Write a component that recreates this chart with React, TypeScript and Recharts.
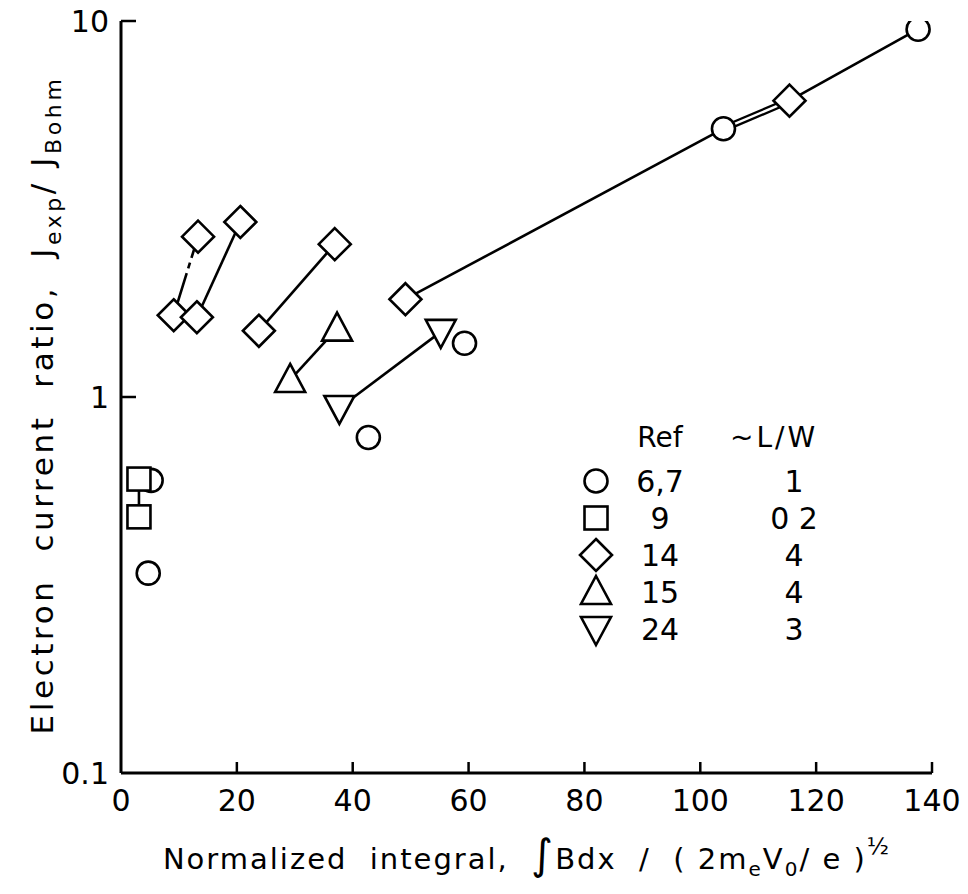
import React from 'react';
import { ScatterChart, Scatter, XAxis, YAxis } from 'recharts';

const xTicks = [0, 20, 40, 60, 80, 100, 120, 140];
const yTicks = [0.1, 1, 10];

// Ref 6,7 - circles
const ref67 = [
  { x: 4.7, y: 0.34 },
  { x: 5.2, y: 0.6 },
  { x: 42.7, y: 0.78 },
  { x: 59.3, y: 1.39 },
  { x: 104.0, y: 5.17 },
  { x: 137.6, y: 9.51 },
];
// Ref 9 - squares
const ref9 = [
  { x: 3.1, y: 0.605 },
  { x: 3.1, y: 0.48 },
];
// Ref 14 - diamonds
const ref14 = [
  { x: 9.1, y: 1.65 },
  { x: 13.3, y: 2.67 },
  { x: 13.1, y: 1.63 },
  { x: 20.6, y: 2.92 },
  { x: 23.8, y: 1.5 },
  { x: 36.9, y: 2.55 },
  { x: 49.1, y: 1.82 },
  { x: 115.4, y: 6.14 },
];
// Ref 15 - triangles up
const ref15 = [
  { x: 29.2, y: 1.11 },
  { x: 37.3, y: 1.52 },
];
// Ref 24 - triangles down
const ref24 = [
  { x: 37.7, y: 0.935 },
  { x: 55.2, y: 1.49 },
];

const legendRefs = ['6,7', '9', '14', '15', '24'];
const legendLW = ['1', '0 2', '4', '4', '3'];

// connecting lines between points
const dashedLink = [ref14[0], ref14[1]];
const solidLinks = [
  [ref9[0], ref9[1]],
  [ref14[2], ref14[3]],
  [ref14[4], ref14[5]],
  [ref15[0], ref15[1]],
  [ref24[0], ref24[1]],
  [ref14[6], ref67[4]],
  [ref14[7], ref67[5]],
];
const doubleLink = [ref67[4], ref14[7]];

const FONT = '"DejaVu Sans", sans-serif';
const SW = 2.6;

const CircleMark = ({ cx, cy }: any) => (
  <circle cx={cx} cy={cy} r={11.5} fill="#fff" stroke="#000" strokeWidth={SW} />
);
const SquareMark = ({ cx, cy }: any) => (
  <rect x={cx - 11.5} y={cy - 11.5} width={23} height={23} fill="#fff" stroke="#000" strokeWidth={SW} />
);
const DiamondMark = ({ cx, cy }: any) => (
  <polygon
    points={`${cx},${cy - 16} ${cx + 16},${cy} ${cx},${cy + 16} ${cx - 16},${cy}`}
    fill="#fff"
    stroke="#000"
    strokeWidth={SW}
  />
);
const TriUpMark = ({ cx, cy }: any) => (
  <polygon
    points={`${cx},${cy - 16} ${cx + 15},${cy + 12} ${cx - 15},${cy + 12}`}
    fill="#fff"
    stroke="#000"
    strokeWidth={SW}
  />
);
const TriDownMark = ({ cx, cy }: any) => (
  <polygon
    points={`${cx},${cy + 16} ${cx + 15},${cy - 12} ${cx - 15},${cy - 12}`}
    fill="#fff"
    stroke="#000"
    strokeWidth={SW}
  />
);
const NoMark = () => <g />;

const legendShapes = [CircleMark, SquareMark, DiamondMark, TriUpMark, TriDownMark];

const XTick = ({ x, y, payload }: any) => (
  <g>
    {payload.value !== 0 && <line x1={x} y1={y} x2={x} y2={y - 11} stroke="#000" strokeWidth={2.5} />}
    <text x={x} y={y + 38} textAnchor="middle" fontSize={30} fontFamily={FONT} fill="#000">
      {payload.value}
    </text>
  </g>
);

const YTick = ({ x, y, payload }: any) => (
  <g>
    {payload.value !== 0.1 && <line x1={x} y1={y} x2={x + 15} y2={y} stroke="#000" strokeWidth={2.5} />}
    <text x={x - 12} y={y + 11} textAnchor="end" fontSize={30} fontFamily={FONT} fill="#000">
      {payload.value}
    </text>
  </g>
);

const XTitle = () => (
  <text
    x={527}
    y={869}
    textAnchor="middle"
    fontSize={29}
    letterSpacing={2}
    fontFamily={FONT}
    fill="#000"
    style={{ whiteSpace: 'pre' }}
  >
    Normalized  integral,  <tspan fontSize={42}>∫</tspan>Bdx  /  ( 2m
    <tspan dy={7} fontSize={20}>e</tspan>
    <tspan dy={-7}>V</tspan>
    <tspan dy={7} fontSize={20}>0</tspan>
    <tspan dy={-7}>/ e )</tspan>
    <tspan dy={-15} fontSize={23}>½</tspan>
  </text>
);

const YTitle = () => (
  <text
    x={0}
    y={0}
    transform="translate(53 405) rotate(-90)"
    textAnchor="middle"
    fontSize={31}
    letterSpacing={3.6}
    fontFamily={FONT}
    fill="#000"
    style={{ whiteSpace: 'pre' }}
  >
    Electron  current  ratio,  J<tspan dy={8} fontSize={22}>exp</tspan>
    <tspan dy={-8}>/ J</tspan>
    <tspan dy={8} fontSize={22}>Bohm</tspan>
  </text>
);

const LegendBox = () => (
  <svg width={260} height={240} style={{ position: 'absolute', left: 580, top: 407, overflow: 'visible' }}>
    <text x={80} y={40} textAnchor="middle" fontSize={28} fontFamily={FONT} fill="#000">Ref</text>
    <text x={150} y={40} textAnchor="start" fontSize={28} letterSpacing={3} fontFamily={FONT} fill="#000">~L/W</text>
    {legendRefs.map((r, i) => {
      const Mark = legendShapes[i];
      const cy = 74 + i * 37;
      return (
        <g key={r}>
          <Mark cx={16} cy={cy} />
          <text x={80} y={cy + 11} textAnchor="middle" fontSize={30} fontFamily={FONT} fill="#000">{r}</text>
          <text x={214} y={cy + 11} textAnchor="middle" fontSize={30} fontFamily={FONT} fill="#000" style={{ whiteSpace: 'pre' }}>
            {legendLW[i]}
          </text>
        </g>
      );
    })}
  </svg>
);

export default function App() {
  return (
    <div style={{ position: 'absolute', left: 0, top: 0, width: 968, height: 894, background: '#fff' }}>
      <ScatterChart width={968} height={894} margin={{ top: 21, right: 36, bottom: 0, left: 0 }}>
        <XAxis
          type="number"
          dataKey="x"
          domain={[0, 140]}
          ticks={xTicks}
          height={121}
          tickSize={0}
          tickMargin={0}
          tickLine={false}
          axisLine={{ stroke: '#000', strokeWidth: 3 }}
          tick={<XTick />}
          label={{ content: <XTitle /> }}
        />
        <YAxis
          type="number"
          dataKey="y"
          scale="log"
          domain={[0.1, 10]}
          allowDataOverflow
          ticks={yTicks}
          width={121}
          tickSize={0}
          tickMargin={0}
          tickLine={false}
          axisLine={{ stroke: '#000', strokeWidth: 3 }}
          tick={<YTick />}
          label={{ content: <YTitle /> }}
        />
        {solidLinks.map((seg, i) => (
          <Scatter
            key={`l${i}`}
            data={seg}
            fill="#000"
            line={{ stroke: '#000', strokeWidth: 2.6 }}
            shape={<NoMark />}
            isAnimationActive={false}
            legendType="none"
          />
        ))}
        <Scatter
          data={dashedLink}
          fill="#000"
          line={{ stroke: '#000', strokeWidth: 2.6, strokeDasharray: '44 5 6 5 200' }}
          shape={<NoMark />}
          isAnimationActive={false}
          legendType="none"
        />
        <Scatter
          data={doubleLink}
          fill="#000"
          line={{ stroke: '#000', strokeWidth: 7 }}
          shape={<NoMark />}
          isAnimationActive={false}
          legendType="none"
        />
        <Scatter
          data={doubleLink}
          fill="#fff"
          line={{ stroke: '#fff', strokeWidth: 2.4 }}
          shape={<NoMark />}
          isAnimationActive={false}
          legendType="none"
        />
        <Scatter data={ref67} name="6,7" shape={<CircleMark />} isAnimationActive={false} />
        <Scatter data={ref9} name="9" shape={<SquareMark />} isAnimationActive={false} />
        <Scatter data={ref14} name="14" shape={<DiamondMark />} isAnimationActive={false} />
        <Scatter data={ref15} name="15" shape={<TriUpMark />} isAnimationActive={false} />
        <Scatter data={ref24} name="24" shape={<TriDownMark />} isAnimationActive={false} />
      </ScatterChart>
      <LegendBox />
    </div>
  );
}
